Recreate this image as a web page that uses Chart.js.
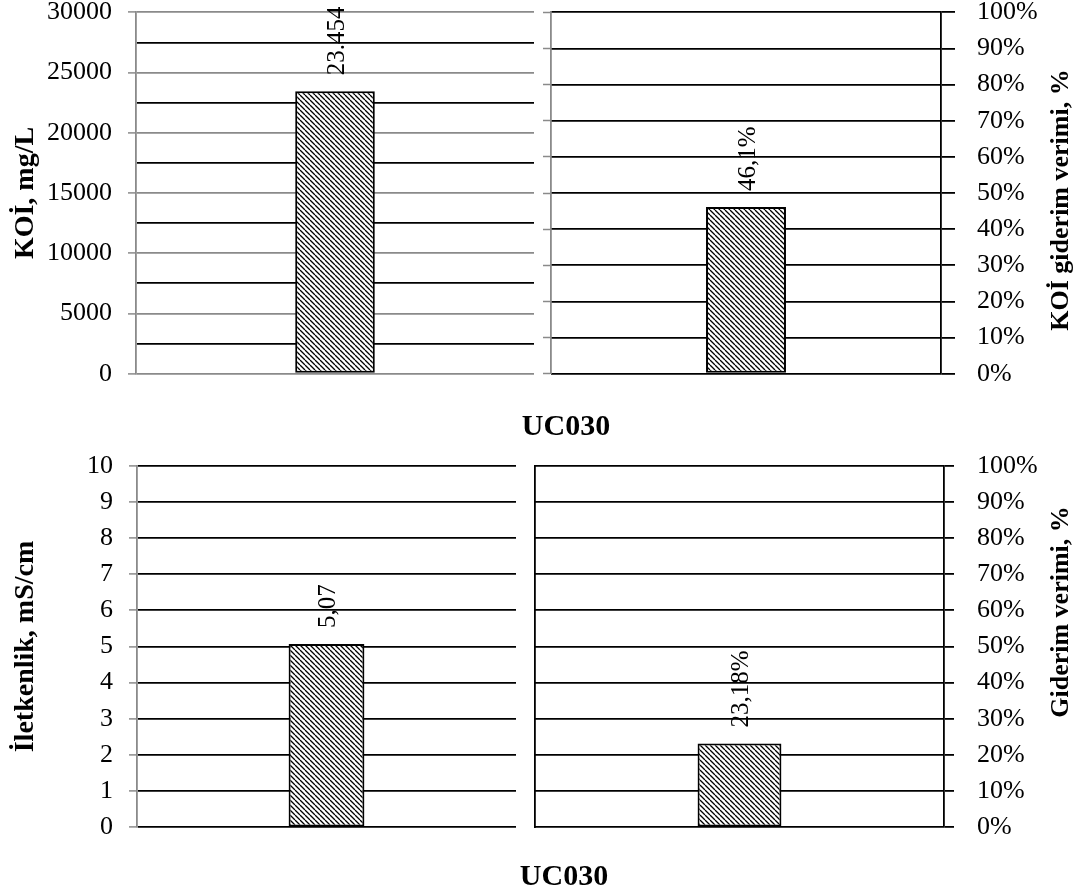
<!DOCTYPE html>
<html lang="tr">
<head>
<meta charset="utf-8">
<title>UC030 – KOİ ve iletkenlik</title>
<script src="https://cdn.jsdelivr.net/npm/chart.js@4.4.1/dist/chart.umd.min.js"></script>
<style>
  html, body { margin: 0; padding: 0; background: #fff; }
  #wrap { position: relative; width: 1080px; height: 896px; overflow: hidden;
          font-family: "Liberation Serif", "Times New Roman", serif; color: #000; }
  #wrap canvas { position: absolute; }
  .xt { position: absolute; font-weight: bold; font-size: 30px; line-height: 1;
        transform: translate(-50%, -50%); white-space: nowrap; }
  .rt { position: absolute; font-weight: bold; font-size: 26px; line-height: 1;
        transform: translate(-50%, -50%) rotate(-90deg); white-space: nowrap; }
</style>
</head>
<body>
<div id="wrap">
  <canvas id="koiChart"  width="540" height="400" style="left:0;top:0"></canvas>
  <canvas id="koiEffChart" width="540" height="400" style="left:540px;top:0"></canvas>
  <canvas id="condChart" width="530" height="456" style="left:0;top:440px"></canvas>
  <canvas id="effChart"  width="555" height="456" style="left:525px;top:440px"></canvas>
  <div class="xt" id="xTitleTop" style="left:566px;top:425px"></div>
  <div class="xt" id="xTitleBottom" style="left:564px;top:875px"></div>
  <div class="rt" id="rTitleTop" style="left:1060px;top:200px"></div>
  <div class="rt" id="rTitleBottom" style="left:1060px;top:612px"></div>
</div>
<script>
// ---- data ----
const categories = ['UC030'];
const koiValues = [23454];          // KOİ, mg/L
const koiRemoval = [46.1];          // KOİ giderim verimi, %
const conductivityValues = [5.07];  // İletkenlik, mS/cm
const removalValues = [23.18];      // Giderim verimi, %

const koiAxis = { min: 0, max: 30000, step: 2500, labelStep: 5000 };
const condAxis = { min: 0, max: 10, step: 1 };
const percentAxis = { min: 0, max: 100, step: 10 };

const xTitle = 'UC030';
const koiTitle = 'KOİ, mg/L';
const koiEffTitle = 'KOİ giderim verimi, %';
const condTitle = 'İletkenlik, mS/cm';
const effTitle = 'Giderim verimi, %';

// ---- shared styling ----
const FONT = '"Liberation Serif", "Times New Roman", serif';
const GRAY = '#8a8a8a';
const CLEAR = 'rgba(0,0,0,0)';
const GRID_W = 1.8;

document.getElementById('xTitleTop').textContent = xTitle;
document.getElementById('xTitleBottom').textContent = xTitle;
document.getElementById('rTitleTop').textContent = koiEffTitle;
document.getElementById('rTitleBottom').textContent = effTitle;

// diagonal hatch fill for the bars
function hatchPattern() {
  const s = 5;
  const c = document.createElement('canvas');
  c.width = s; c.height = s;
  const g = c.getContext('2d');
  g.fillStyle = '#fff';
  g.fillRect(0, 0, s, s);
  g.strokeStyle = '#000';
  g.lineWidth = 1.3;
  g.beginPath();
  for (const k of [-s, 0, s]) { g.moveTo(k, 0); g.lineTo(k + s, s); }
  g.stroke();
  return g.createPattern(c, 'repeat');
}

// rotated value label above each bar
function valueLabelPlugin(format, offset) {
  return {
    id: 'valueLabel',
    afterDatasetsDraw(chart) {
      const ctx = chart.ctx;
      const size = 25;
      chart.getDatasetMeta(0).data.forEach((bar, i) => {
        const v = chart.data.datasets[0].data[i];
        ctx.save();
        ctx.translate(bar.x, bar.y - offset);
        ctx.rotate(-Math.PI / 2);
        ctx.font = size + 'px ' + FONT;
        ctx.fillStyle = '#000';
        ctx.textAlign = 'left';
        ctx.textBaseline = 'alphabetic';
        ctx.fillText(format(v), 0, size * 0.34);
        ctx.restore();
      });
    }
  };
}

const trThousands = v => String(v).replace(/\B(?=(\d{3})+(?!\d))/g, '.');
const trDecimal = (v, d) => v.toFixed(d).replace('.', ',');

// fixed axis width; label overflow is left to the layout padding
function fixWidth(w) {
  return s => { s.width = w; s.paddingTop = 0; s.paddingBottom = 0; };
}

function barDataset(values, pct, axisId) {
  return {
    data: values,
    backgroundColor: hatchPattern(),
    borderColor: '#000',
    borderWidth: 2,
    borderSkipped: false,
    categoryPercentage: 1,
    barPercentage: pct,
    yAxisID: axisId
  };
}

function baseOptions(padding) {
  return {
    responsive: false,
    animation: false,
    devicePixelRatio: 1,
    layout: { padding },
    plugins: { legend: { display: false }, tooltip: { enabled: false } }
  };
}

const tickFont = { family: FONT, size: 26 };
const leftTitleFont = { family: FONT, size: 28, weight: 'bold' };

// ---- KOİ, mg/L (top left) ----
new Chart(document.getElementById('koiChart'), {
  type: 'bar',
  data: { labels: categories, datasets: [barDataset(koiValues, 0.2, 'y')] },
  options: Object.assign(baseOptions({ top: 12.3, bottom: 26.3, left: 0, right: 6 }), {
    scales: {
      x: { display: false },
      y: {
        position: 'left', min: koiAxis.min, max: koiAxis.max,
        ticks: {
          stepSize: koiAxis.step, autoSkip: false, color: '#000', font: tickFont, padding: 16,
          callback: v => (v % koiAxis.labelStep === 0 ? String(v) : '')
        },
        grid: {
          lineWidth: GRID_W, tickLength: 8, tickWidth: 1.5,
          color: c => (c.tick && c.tick.value % koiAxis.labelStep === 0 ? GRAY : '#000'),
          tickColor: c => (c.tick && c.tick.value % koiAxis.labelStep === 0 ? GRAY : CLEAR)
        },
        border: { color: GRAY, width: 1.8 },
        title: { display: true, text: koiTitle, color: '#000', font: leftTitleFont, padding: { top: 9, bottom: 0 } },
        afterFit: fixWidth(136)
      }
    }
  }),
  plugins: [valueLabelPlugin(trThousands, 16)]
});

// ---- KOİ giderim verimi, % (top right) ----
new Chart(document.getElementById('koiEffChart'), {
  type: 'bar',
  data: { labels: categories, datasets: [barDataset(koiRemoval, 0.205, 'y')] },
  options: Object.assign(baseOptions({ top: 12.3, bottom: 26.3, left: 0, right: 0 }), {
    scales: {
      x: { display: false },
      yl: {
        position: 'left', min: percentAxis.min, max: percentAxis.max,
        ticks: { stepSize: percentAxis.step, display: false },
        grid: { drawOnChartArea: false, tickLength: 8, tickWidth: 1.5, tickColor: GRAY },
        border: { color: GRAY, width: 1.8 },
        afterFit: fixWidth(11)
      },
      y: {
        position: 'right', min: percentAxis.min, max: percentAxis.max,
        ticks: { stepSize: percentAxis.step, color: '#000', font: tickFont, padding: 22, callback: v => v + '%' },
        grid: { color: '#000', lineWidth: GRID_W, tickLength: 14, tickWidth: GRID_W, tickColor: '#000' },
        border: { color: '#000', width: 1.8 },
        afterFit: fixWidth(139)
      }
    }
  }),
  plugins: [valueLabelPlugin(v => trDecimal(v, 1) + '%', 16)]
});

// ---- İletkenlik, mS/cm (bottom left) ----
new Chart(document.getElementById('condChart'), {
  type: 'bar',
  data: { labels: categories, datasets: [barDataset(conductivityValues, 0.2, 'y')] },
  options: Object.assign(baseOptions({ top: 25.7, bottom: 68.7, left: 0, right: 14 }), {
    scales: {
      x: { display: false },
      y: {
        position: 'left', min: condAxis.min, max: condAxis.max,
        ticks: { stepSize: condAxis.step, color: '#000', font: tickFont, padding: 16 },
        grid: { color: '#000', lineWidth: GRID_W, tickLength: 8, tickWidth: 1.5, tickColor: GRAY },
        border: { color: GRAY, width: 1.8 },
        title: { display: true, text: condTitle, color: '#000', font: leftTitleFont, padding: { top: 9, bottom: 0 } },
        afterFit: fixWidth(137)
      }
    }
  }),
  plugins: [valueLabelPlugin(v => trDecimal(v, 2), 16)]
});

// ---- Giderim verimi, % (bottom right) ----
new Chart(document.getElementById('effChart'), {
  type: 'bar',
  data: { labels: categories, datasets: [barDataset(removalValues, 0.205, 'y')] },
  options: Object.assign(baseOptions({ top: 25.7, bottom: 68.7, left: 0, right: 0 }), {
    scales: {
      x: { display: false },
      yl: {
        position: 'left', min: percentAxis.min, max: percentAxis.max,
        ticks: { stepSize: percentAxis.step, display: false },
        grid: { drawOnChartArea: false, drawTicks: false },
        border: { color: '#000', width: 1.8 },
        afterFit: fixWidth(10)
      },
      y: {
        position: 'right', min: percentAxis.min, max: percentAxis.max,
        ticks: { stepSize: percentAxis.step, color: '#000', font: tickFont, padding: 23, callback: v => v + '%' },
        grid: { color: '#000', lineWidth: GRID_W, tickLength: 10, tickWidth: GRID_W, tickColor: '#000' },
        border: { color: '#000', width: 1.8 },
        afterFit: fixWidth(136)
      }
    }
  }),
  plugins: [valueLabelPlugin(v => trDecimal(v, 2) + '%', 16)]
});
</script>
</body>
</html>
